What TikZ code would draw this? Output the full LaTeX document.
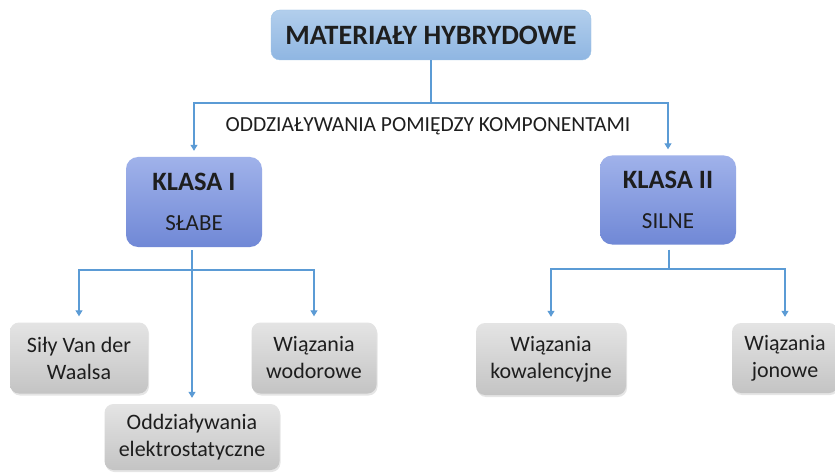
\documentclass[tikz,border=0pt]{standalone}
\usepackage{fontspec}
\setmainfont{Carlito}
\usetikzlibrary{arrows.meta,shadows}
\definecolor{linkblue}{RGB}{91,155,213}
\definecolor{inkgray}{RGB}{30,30,30}
\begin{document}
\begin{tikzpicture}[x=1pt,y=-1pt,
        link/.style={draw=linkblue,line width=1.1pt},
        arr/.style={link,-{Triangle[width=7pt,length=6pt]},shorten >=6pt},
        topbox/.style={draw=linkblue!60,rounded corners=9pt,top color={rgb,255:red,178;green,206;blue,236},
            bottom color={rgb,255:red,143;green,182;blue,226},text=inkgray,
            minimum width=320pt,minimum height=50pt,font=\fontsize{28}{32}\selectfont\bfseries},
        classbox/.style={rounded corners=12pt,top color={rgb,255:red,160;green,178;blue,234},
            bottom color={rgb,255:red,112;green,136;blue,214},text=inkgray,align=center,
            minimum width=136pt,minimum height=90pt,font=\fontsize{23}{26}\selectfont},
        kindbox/.style={rounded corners=9pt,top color={rgb,255:red,228;green,228;blue,228},
            bottom color={rgb,255:red,196;green,196;blue,196},text=inkgray,align=center,
            drop shadow={opacity=0.2,shadow xshift=1pt,shadow yshift=-2pt},
            minimum height=71pt,font=\fontsize{22}{27}\selectfont}]
    \useasboundingbox[fill=white] (0,0) rectangle (835,473);
    %% Root
    \node[topbox] (root) at (431,35) {MATERIAŁY HYBRYDOWE};
    \coordinate (bar) at (431,103);
    \node[text=inkgray,font=\fontsize{21.5}{25}\selectfont] (kind) at (428,126) {ODDZIAŁYWANIA POMIĘDZY KOMPONENTAMI};
    %% Classes
    \node[classbox] (weak) at (194,202) {{\fontsize{26.5}{30}\selectfont\bfseries KLASA I}\\[14pt]SŁABE};
    \node[classbox,minimum height=89pt] (strong) at (668,200) {{\fontsize{26.5}{30}\selectfont\bfseries KLASA II}\\[14pt]SILNE};
    %% Weak bonds
    \node[kindbox,minimum width=138pt] (waals) at (79,358) {Siły Van der\\Waalsa};
    \node[kindbox,minimum width=125pt] (hydro) at (314,358) {Wiązania\\wodorowe};
    \node[kindbox,minimum width=175pt,minimum height=66pt] (electro) at (192,437) {Oddziaływania\\elektrostatyczne};
    %% Strong bonds
    \node[kindbox,minimum width=150pt,minimum height=72pt] (coval) at (551,359) {Wiązania\\kowalencyjne};
    \node[kindbox,minimum width=106pt,minimum height=70pt] (ionic) at (785,358) {Wiązania\\jonowe};
    %% Vectors
    \draw[link] (root.south) -- (bar);
    \draw[arr] (bar) -| (weak.north);
    \draw[arr] (bar) -| (strong.north);
    \coordinate (wbar) at (192,270);
    \coordinate (sbar) at (669,269);
    \draw[link,shorten <=3pt] (weak.south -| wbar) -- (wbar);
    \draw[arr] (wbar) -| (waals.north);
    \draw[arr] (wbar) -| (hydro.north);
    \draw[arr] (wbar) -- (wbar |- electro.north);
    \draw[link,shorten <=5pt] (strong.south -| sbar) -- (sbar);
    \draw[arr] (sbar) -| (coval.north);
    \draw[arr] (sbar) -| (ionic.north);
\end{tikzpicture}
\end{document}
